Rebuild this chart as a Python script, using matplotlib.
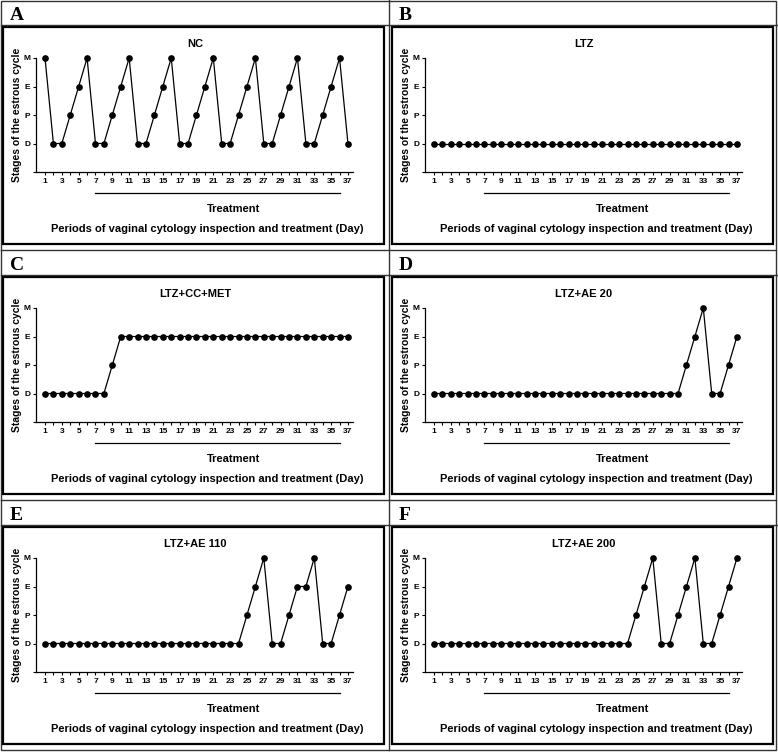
import matplotlib
matplotlib.use("Agg")
import matplotlib.pyplot as plt
from matplotlib.lines import Line2D
from matplotlib.patches import Rectangle
from matplotlib.transforms import blended_transform_factory

plt.rcParams['font.family'] = ['Liberation Sans', 'DejaVu Sans']
plt.rcParams['font.weight'] = 'bold'

# Days of vaginal cytology inspection
days = list(range(1, 38))

# Stage codes: 0 = D, 1 = P, 2 = E, 3 = M
stage_labels = ['D', 'P', 'E', 'M']

nc = [3, 0, 0, 1, 2, 3] + [0, 0, 1, 2, 3] * 6 + [0]
ltz = [0] * 37
ltz_cc_met = [0] * 8 + [1] + [2] * 28
ltz_ae20 = [0] * 30 + [1, 2, 3, 0, 0, 1, 2]
ltz_ae110 = [0] * 24 + [1, 2, 3, 0, 0, 1, 2, 2, 3, 0, 0, 1, 2]
ltz_ae200 = [0] * 24 + [1, 2, 3, 0, 0, 1, 2, 3, 0, 0, 1, 2, 3]

panel_letters = ['A', 'B', 'C', 'D', 'E', 'F']
panel_titles = ['NC', 'LTZ', 'LTZ+CC+MET', 'LTZ+AE 20', 'LTZ+AE 110', 'LTZ+AE 200']
panel_data = [nc, ltz, ltz_cc_met, ltz_ae20, ltz_ae110, ltz_ae200]

# Treatment period (days)
treat_start, treat_end = 7, 36

W, H = 778, 752
fig = plt.figure(figsize=(W / 100, H / 100), dpi=100)


def fx(px):
    return px / W


def fy(py):
    return 1 - py / H


grid_col = '#333333'

# outer grid of panels
col_x = [0, 389]
row_y = [0, 250, 500]
fig.add_artist(Rectangle((fx(1), fy(750)), fx(775), 749 / H, transform=fig.transFigure,
                         fill=False, lw=1.0, ec=grid_col))
fig.add_artist(Line2D([fx(389), fx(389)], [fy(0), fy(750)], lw=1.0, color=grid_col))
for yy in [250, 500]:
    fig.add_artist(Line2D([fx(1), fx(776)], [fy(yy), fy(yy)], lw=1.0, color=grid_col))

for i in range(6):
    cx = col_x[i % 2]
    cy = row_y[i // 2]

    # letter header
    fig.text(fx(cx + 10), fy(cy + 20), panel_letters[i], family='Liberation Serif',
             fontsize=14, fontweight='bold', ha='left', va='baseline')
    fig.add_artist(Line2D([fx(cx + 1), fx(cx + 388)], [fy(cy + 25), fy(cy + 25)],
                          lw=1.0, color=grid_col))

    # inner black frame
    fig.add_artist(Rectangle((fx(cx + 3), fy(cy + 244)), (381) / W, (217) / H,
                             transform=fig.transFigure, fill=False, lw=1.6, ec='black'))

    # plot area
    left, right, top, bottom = cx + 36, cx + 353, cy + 58, cy + 172
    ax = fig.add_axes([fx(left), fy(bottom), (right - left) / W, (bottom - top) / H])
    ax.plot(days, panel_data[i], color='black', lw=0.9, marker='o', markersize=3.8,
            clip_on=False)

    ax.set_xlim(-0.07, 37.6)
    ax.set_ylim(-1, 3)
    ax.set_xticks(days)
    ax.set_xticklabels([str(d) if d % 2 == 1 else '' for d in days])
    ax.set_yticks([-1, 0, 1, 2, 3])
    ax.set_yticklabels([''] + stage_labels)
    ax.tick_params(axis='both', length=2.5, width=0.8, labelsize=6, pad=1.5)
    for s in ['top', 'right']:
        ax.spines[s].set_visible(False)
    for s in ['left', 'bottom']:
        ax.spines[s].set_linewidth(0.9)
    for lab in ax.get_xticklabels() + ax.get_yticklabels():
        lab.set_fontweight('bold')

    # treatment bar below axis
    trans = blended_transform_factory(ax.transData, ax.transAxes)
    ax.plot([treat_start, treat_end], [-0.185, -0.185], color='black', lw=0.9,
            transform=trans, clip_on=False)

    fig.text(fx(cx + 195), fy(cy + 44), panel_titles[i], fontsize=8, fontweight='bold',
             ha='center', va='center')
    fig.text(fx(cx + 17), fy(cy + 115), 'Stages of the estrous cycle', fontsize=7.5,
             fontweight='bold', rotation=90, ha='center', va='center')
    fig.text(fx(cx + 234), fy(cy + 209), 'Treatment', fontsize=8, fontweight='bold',
             ha='center', va='center')
    fig.text(fx(cx + 207), fy(cy + 229),
             'Periods of vaginal cytology inspection and treatment (Day)', fontsize=8,
             fontweight='bold', ha='center', va='center')

fig.savefig('out.png', dpi=100)
